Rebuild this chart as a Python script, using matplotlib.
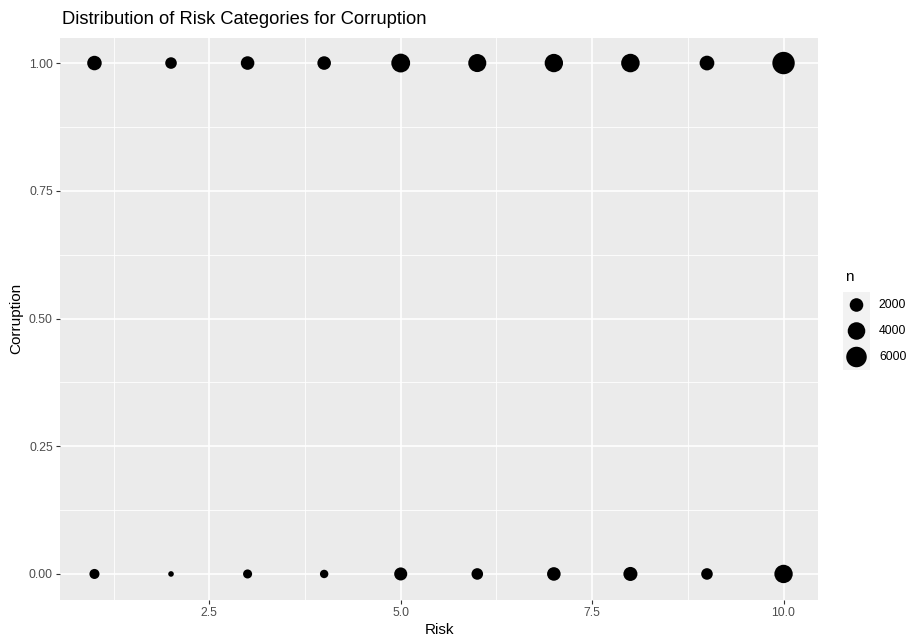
import numpy as np
import matplotlib
matplotlib.use("Agg")
import matplotlib.pyplot as plt
from matplotlib.transforms import blended_transform_factory

plt.rcParams['font.family'] = ['Liberation Sans', 'DejaVu Sans']

# === data (counts) ===
risk = [1, 2, 3, 4, 5, 6, 7, 8, 9, 10]
n_corrupt = [2400, 1300, 2000, 2000, 4800, 4300, 4500, 4600, 2500, 7500]
n_clean = [900, 400, 700, 600, 1800, 1300, 2000, 2200, 1300, 4500]
legend_n = [2000, 4000, 6000]

# size scale like ggplot's area scale (diameter in px)
n_min, n_max = 400, 7500
d_min, d_max = 5.6, 22.4


def marker_area(n):
    n = np.asarray(n, dtype=float)
    f = np.clip((n - n_min) / (n_max - n_min), 0, 1)
    d_px = d_min + (d_max - d_min) * np.sqrt(f)
    return (d_px * 0.72) ** 2


W, H = 913, 639
fig = plt.figure(figsize=(W / 100, H / 100), dpi=100)
fig.patch.set_facecolor('white')

# panel
left, right, top, bottom = 60, 818, 37.5, 599.5
ax = fig.add_axes([left / W, 1 - bottom / H, (right - left) / W, (bottom - top) / H])
ax.set_facecolor('#EBEBEB')
for s in ax.spines.values():
    s.set_visible(False)

ax.scatter(risk, [1] * len(risk), s=marker_area(n_corrupt), color='black', linewidths=0, zorder=3)
ax.scatter(risk, [0] * len(risk), s=marker_area(n_clean), color='black', linewidths=0, zorder=3)

ax.set_xlim(0.55, 10.45)
ax.set_ylim(-0.05, 1.05)
ax.set_xticks([2.5, 5.0, 7.5, 10.0])
ax.set_xticklabels(['2.5', '5.0', '7.5', '10.0'])
ax.set_xticks([1.25, 3.75, 6.25, 8.75], minor=True)
ax.set_yticks([0, 0.25, 0.5, 0.75, 1.0])
ax.set_yticklabels(['0.00', '0.25', '0.50', '0.75', '1.00'])
ax.set_yticks([0.125, 0.375, 0.625, 0.875], minor=True)

ax.grid(True, which='major', color='white', linewidth=1.2, zorder=1)
ax.grid(True, which='minor', color='white', linewidth=0.6, zorder=1)
ax.set_axisbelow(True)
ax.tick_params(which='major', length=3, width=0.8, color='#333333',
               labelsize=8.8, labelcolor='#4D4D4D', pad=2.2)
ax.tick_params(which='minor', length=0)

ax.set_xlabel('Risk', fontsize=11, labelpad=3)
ax.set_ylabel('Corruption', fontsize=11, labelpad=4)

fig.text(62 / W, 1 - 24 / H, 'Distribution of Risk Categories for Corruption',
         fontsize=13.2, ha='left', va='baseline')

# legend (drawn as a small axes, like ggplot keys)
kl, kr, kt, kb = 843, 870, 292, 370
lax = fig.add_axes([kl / W, 1 - kb / H, (kr - kl) / W, (kb - kt) / H])
lax.set_facecolor('#F2F2F2')
for s in lax.spines.values():
    s.set_visible(False)
lax.set_xticks([])
lax.set_yticks([])
lax.set_xlim(0, 1)
lax.set_ylim(len(legend_n) - 0.5, -0.5)
lax.scatter([0.5] * len(legend_n), range(len(legend_n)), s=marker_area(legend_n),
            color='black', linewidths=0, clip_on=False)
tr = blended_transform_factory(lax.transAxes, lax.transData)
for i, v in enumerate(legend_n):
    lax.text(1.33, i, str(v), transform=tr, fontsize=8.8, ha='left', va='center')
fig.text(845 / W, 1 - 281 / H, 'n', fontsize=11, ha='left', va='baseline')

fig.savefig('out.png', dpi=100)
